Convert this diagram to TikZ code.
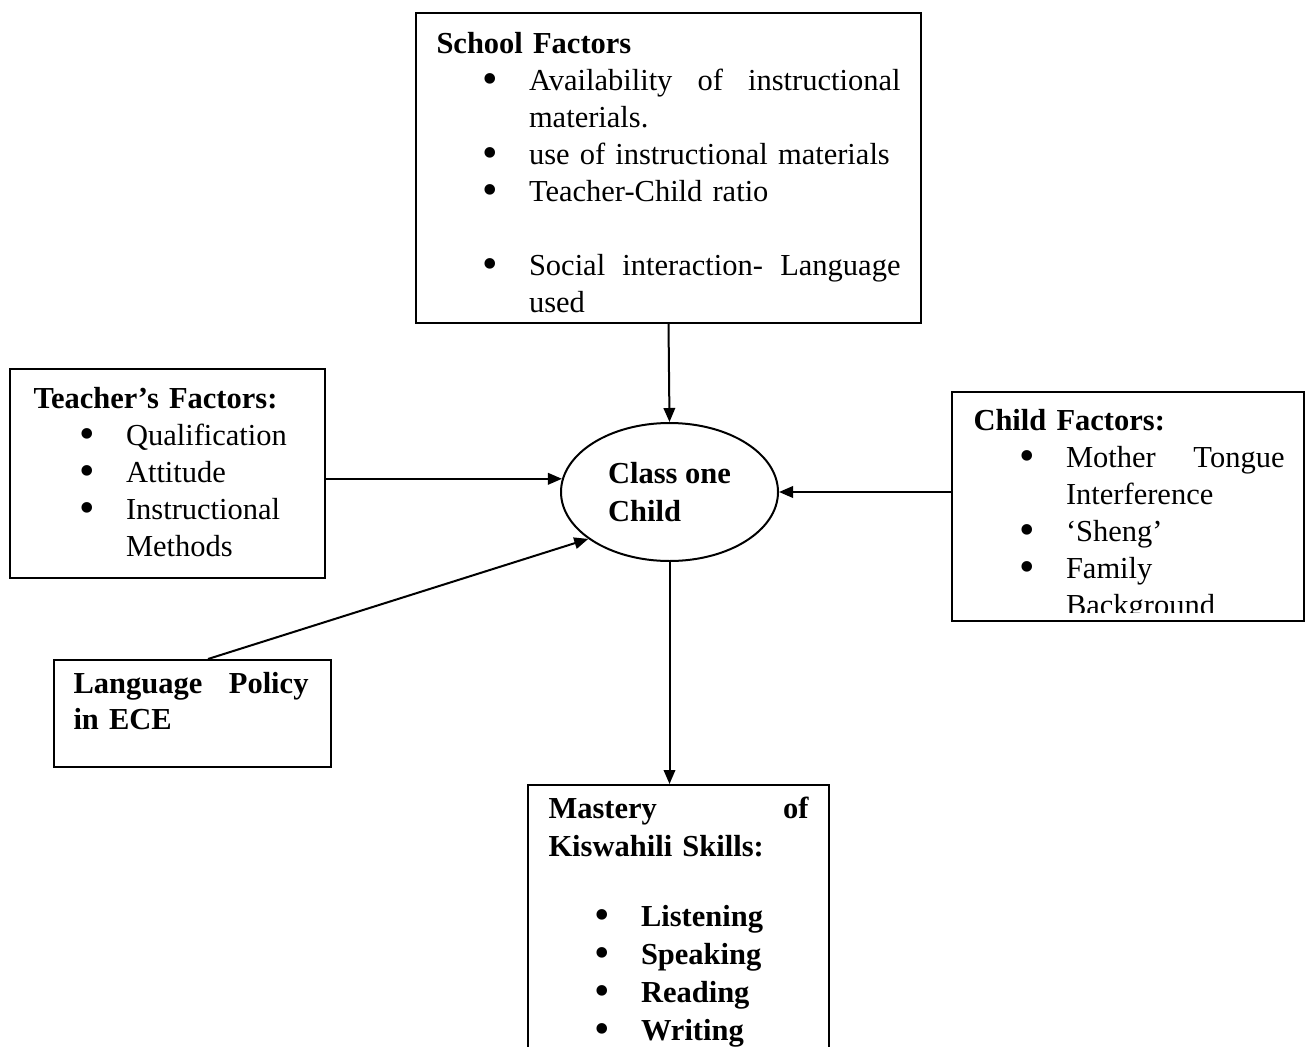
\documentclass[tikz,border=0pt]{standalone}
\usepackage{fontspec}
\setmainfont{Liberation Serif}
\usepackage{tikz}
\usetikzlibrary{arrows.meta,calc,fit,shapes.geometric}
\newcommand{\itm}{\hspace*{18.3pt}\makebox[18.7pt][l]{\mdseries\raisebox{-0.1em}{\scalebox{1.45}{\textbullet}}}}
\newcommand{\contline}{\hspace*{37pt}}

\begin{document}
\begin{tikzpicture}[x=0.4pt,y=-0.4pt,
  box/.style={draw,line width=0.8pt,inner sep=0pt},
  txt/.style={anchor=north west,inner sep=0pt,align=left,font=\fontsize{12.2pt}{14.8pt}\selectfont},
  arr/.style={line width=0.8pt,-{Triangle[length=5.6pt,width=4.6pt]}}]
  \clip (0,0) rectangle (1305,1046);
  \node[box,fit={(416,13) (921,323)}] (school) {};
  \node[box,fit={(10,369) (325,578)}] (teacher) {};
  \node[box,fit={(952,392) (1304,621)}] (child) {};
  \node[box,fit={(54,660) (331,767)}] (language) {};
  \node[box,fit={(528,785) (829,1120)}] (mastery) {};
  \node[box,ellipse,minimum width=86.8pt,minimum height=55.2pt,align=left,
    font=\fontsize{12.2pt}{15.2pt}\selectfont\bfseries] (cls) at (669.5,492) {Class one\\Child};

  \node[txt,text width=185.6pt] (schooltxt) at (436,27.1) {\strut\textbf{School Factors}\\
    \itm Availability\hfill of\hfill instructional\\
    \contline materials.\\
    \itm use of instructional materials\\
    \itm Teacher-Child ratio\\[14.8pt]
    \itm Social\hfill interaction-\hfill Language\\
    \contline used};
  \node[txt,text width=114.8pt] (teachertxt) at (33,382.1) {\strut\textbf{Teacher's Factors:}\\
    \itm Qualification\\
    \itm Attitude\\
    \itm Instructional\\
    \contline Methods};
  \begin{scope}
    \clip (child.north west) rectangle ($(child.south east)+(0,-10)$);
    \node[txt,text width=124.4pt] (childtxt) at (973,404.1) {\strut\textbf{Child Factors:}\\
      \itm Mother\hfill Tongue\\
      \contline Interference\\
      \itm `Sheng'\\
      \itm Family\\
      \contline Background};
  \end{scope}
  \node[txt,text width=94pt,font=\fontsize{12.2pt}{14.4pt}\selectfont\bfseries] (languagetxt) at (73,668) {\strut Language\hfill Policy\\
    in ECE};
  \node[txt,text width=104pt,font=\fontsize{12.2pt}{15.2pt}\selectfont\bfseries] (masterytxt) at (548,791.1) {\strut Mastery\hfill of\\
    Kiswahili Skills:\\[13pt]
    \itm Listening\\
    \itm Speaking\\
    \itm Reading\\
    \itm Writing};

  \draw[arr] (school.south) -- (cls.north);
  \draw[arr] (teacher.east |- cls.173) -- (cls.173);
  \draw[arr] (child.west |- cls.east) -- (cls.east);
  \draw[arr] ($(language.north)+(15.5,0)$) -- (cls.210);
  \draw[arr] (cls.south) -- (cls.south |- mastery.north);
\end{tikzpicture}
\end{document}
